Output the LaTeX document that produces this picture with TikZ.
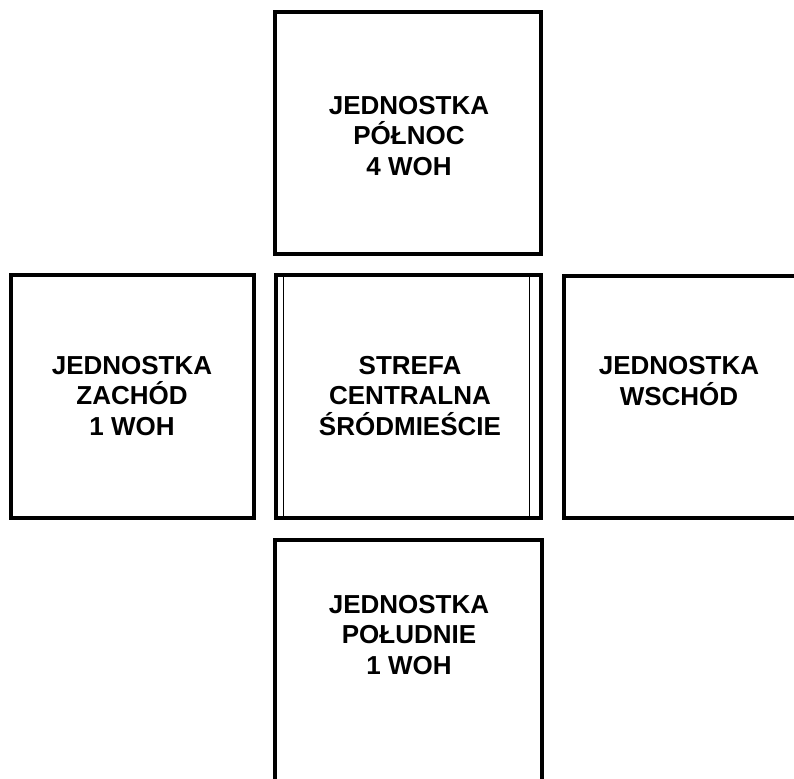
\documentclass[tikz,border=0pt]{standalone}
\usepackage{fontspec}
\setmainfont{Liberation Sans}
\begin{document}
\begin{tikzpicture}[x=1pt,y=-1pt,
  unitbox/.style={draw=black,line width=4pt,rectangle,inner sep=0pt,fill=white},
  lbl/.style={align=center,font=\bfseries\fontsize{26}{30.5}\selectfont,inner sep=0pt}]
\useasboundingbox (0,0) rectangle (794,778);
\clip (0,0) rectangle (794,778);
% boxes
\node[unitbox,minimum width=266pt,minimum height=242pt] (north) at (408,133) {};
\node[unitbox,minimum width=243pt,minimum height=243pt] (west) at (132.5,396.5) {};
\node[unitbox,minimum width=232pt,minimum height=242pt] (east) at (680,397) {};
\node[unitbox,minimum width=267pt,minimum height=242pt] (south) at (408.5,661) {};
\node[unitbox,minimum width=265pt,minimum height=243pt] (centre) at (408.5,396.5) {};
\draw[line width=1pt] ([xshift=9.5pt]centre.north west) -- ([xshift=9.5pt]centre.south west);
\draw[line width=1pt] ([xshift=-14pt]centre.north east) -- ([xshift=-14pt]centre.south east);
% labels
\node[lbl] (tnorth) at (409,136) {JEDNOSTKA\\PÓŁNOC\\4 WOH};
\node[lbl] (twest) at (132,396) {JEDNOSTKA\\ZACHÓD\\1 WOH};
\node[lbl] (tcentre) at (410,396) {STREFA\\CENTRALNA\\ŚRÓDMIEŚCIE};
\node[lbl] (teast) at (679,381) {JEDNOSTKA\\WSCHÓD};
\node[lbl] (tsouth) at (409,635) {JEDNOSTKA\\POŁUDNIE\\1 WOH};
\end{tikzpicture}
\end{document}
